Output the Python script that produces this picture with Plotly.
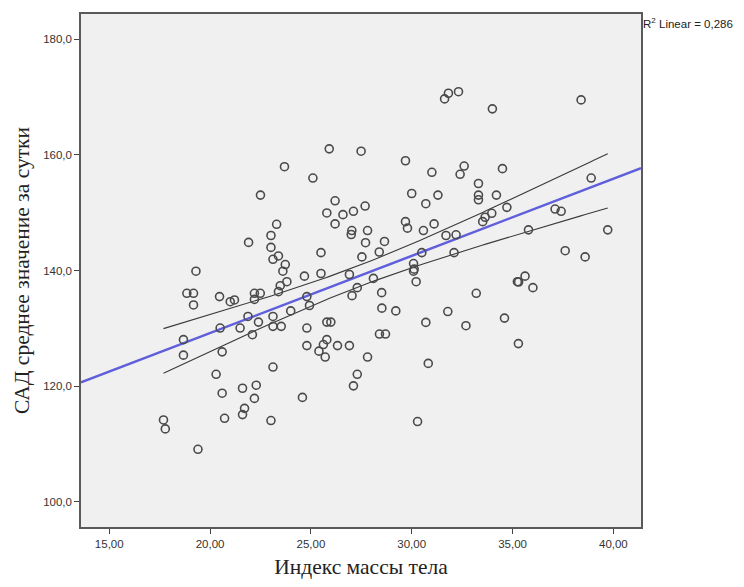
import numpy as np
import plotly.graph_objects as go

# Body-mass index (x) and mean 24h systolic BP (y)
bmi = [
    23.69, 22.50, 23.30, 23.02, 21.91, 23.02,
    23.39, 23.12, 23.73, 23.61, 19.30, 18.85, 19.18, 19.18, 20.47, 21.00, 21.21,
    22.20, 22.49, 22.20, 23.39, 23.48, 23.81, 24.68, 24.80, 21.88, 22.40, 23.12,
    23.12, 23.53, 24.00, 20.50, 21.49, 22.10, 18.68, 18.68, 24.80, 24.80, 20.60,
    20.30, 23.12, 20.60, 21.61, 22.29, 22.20, 21.71, 21.61, 20.72, 23.02, 24.58,
    17.69, 17.78, 19.40,
    31.63, 31.82, 32.32, 25.91, 27.49, 29.69, 25.10, 31.00, 32.60, 32.40, 26.20,
    30.00, 31.30, 30.70, 25.79, 26.59, 27.11, 27.69, 26.20, 27.03, 27.00, 27.81,
    29.69, 29.79, 30.58, 31.11, 27.71, 28.65, 25.50, 27.53, 28.39, 31.70, 32.20,
    30.50, 32.10,
    25.50, 26.91, 30.09, 30.12, 30.09, 30.22, 28.10, 27.30, 27.04, 28.51, 24.93,
    28.52, 29.21, 31.79, 30.70, 32.69, 25.79, 25.99, 28.40, 28.70, 25.79, 25.62,
    25.40, 25.71, 26.32, 26.91, 27.81, 30.82, 27.30, 27.11, 30.29,
    34.00, 38.40, 34.50, 33.31, 33.31, 33.31, 34.20, 34.72, 33.97, 33.64, 33.52,
    38.90, 37.11, 37.41, 35.79, 39.72, 37.61, 38.60,
    35.24, 35.30, 35.62, 36.01, 33.20, 34.60, 35.29,
]
sbp = [
    157.97, 153.05, 148.00, 146.06, 144.86, 144.00,
    142.52, 141.94, 141.03, 139.88, 139.88, 136.05, 136.05, 134.04, 135.48, 134.60, 134.90,
    136.05, 136.05, 135.00, 136.34, 137.37, 138.06, 139.02, 135.48, 132.05, 131.07, 132.05,
    130.33, 130.33, 133.01, 130.04, 130.04, 128.89, 128.03, 125.35, 130.04, 127.00, 125.92,
    122.03, 123.29, 118.76, 119.62, 120.14, 117.86, 116.14, 115.06, 114.42, 114.03, 118.03,
    114.13, 112.58, 109.05,
    169.70, 170.68, 170.95, 161.06, 160.65, 159.00, 156.00, 157.00, 158.08, 156.65, 152.07,
    153.33, 153.05, 151.56, 149.96, 149.67, 150.25, 151.16, 148.07, 146.92, 146.23, 146.92,
    148.46, 147.33, 146.92, 148.07, 144.81, 145.03, 143.09, 142.35, 143.20, 146.06, 146.18,
    143.09, 143.09,
    139.48, 139.31, 141.20, 140.23, 139.88, 138.06, 138.63, 137.03, 135.65, 136.17, 133.94,
    133.48, 133.01, 132.90, 131.02, 130.44, 131.07, 131.07, 129.00, 129.00, 128.03, 127.18,
    126.04, 125.02, 127.00, 127.00, 125.02, 123.92, 122.03, 120.03, 113.85,
    167.98, 169.53, 157.63, 155.06, 153.05, 152.24, 153.05, 150.93, 149.90, 149.22, 148.46,
    156.00, 150.64, 150.25, 147.04, 147.04, 143.43, 142.35,
    138.06, 138.00, 139.02, 137.03, 136.05, 131.76, 127.35,
]

x_ticks = [15, 20, 25, 30, 35, 40]
y_ticks = [100, 120, 140, 160, 180]
x_range = [13.6, 41.37]
y_range = [95.6, 184.4]
r2_label = "R<sup>2</sup> Linear = 0,286"
t_crit = 1.977  # 95% two-sided t, df ~ 142

x = np.array(bmi)
y = np.array(sbp)
n = len(x)
slope, intercept = np.polyfit(x, y, 1)
resid = y - (slope * x + intercept)
s = np.sqrt(np.sum(resid ** 2) / (n - 2))
xm = x.mean()
sxx = np.sum((x - xm) ** 2)

fit_x = np.array(x_range)
fit_y = slope * fit_x + intercept

ci_x = np.linspace(x.min(), x.max(), 100)
ci_c = slope * ci_x + intercept
ci_h = t_crit * s * np.sqrt(1.0 / n + (ci_x - xm) ** 2 / sxx)

fig = go.Figure()
fig.add_trace(go.Scatter(x=fit_x, y=fit_y, mode="lines",
                         line=dict(color="rgb(95,95,220)", width=2.5),
                         hoverinfo="skip", showlegend=False))
fig.add_trace(go.Scatter(x=ci_x, y=ci_c + ci_h, mode="lines",
                         line=dict(color="#3a3a3a", width=1.1),
                         hoverinfo="skip", showlegend=False))
fig.add_trace(go.Scatter(x=ci_x, y=ci_c - ci_h, mode="lines",
                         line=dict(color="#3a3a3a", width=1.1),
                         hoverinfo="skip", showlegend=False))
fig.add_trace(go.Scatter(x=bmi, y=sbp, mode="markers",
                         marker=dict(symbol="circle-open", size=8,
                                     color="#4a4a4a", line=dict(width=1.6)),
                         showlegend=False))

axis_common = dict(showline=True, mirror=True, linecolor="#5a5a5a", linewidth=1.5,
                   ticks="outside", ticklen=5, tickwidth=1.2, tickcolor="#444",
                   showgrid=False, zeroline=False,
                   tickfont=dict(family="Liberation Sans, Arial", size=11.5, color="#333"))

fig.update_layout(
    width=744, height=587,
    margin=dict(l=81, r=103, t=13, b=56),
    paper_bgcolor="white", plot_bgcolor="#F0F0F0",
    separators=",.",
    xaxis=dict(range=x_range, tickvals=x_ticks, tickformat=".2f",
               title=dict(text="Индекс массы тела", standoff=10,
                          font=dict(family="Liberation Serif, Times New Roman", size=21.5, color="#222")),
               **axis_common),
    yaxis=dict(range=y_range, tickvals=y_ticks, tickformat=".1f",
               title=dict(text="САД среднее значение за сутки", standoff=8,
                          font=dict(family="Liberation Serif, Times New Roman", size=21.5, color="#222")),
               **axis_common),
    annotations=[dict(text=r2_label, xref="paper", yref="paper", x=1.0, y=0.983,
                      xanchor="left", yanchor="middle", showarrow=False,
                      font=dict(family="Liberation Sans, Arial", size=11.5, color="#222"))],
)

fig.write_html("out.html")
